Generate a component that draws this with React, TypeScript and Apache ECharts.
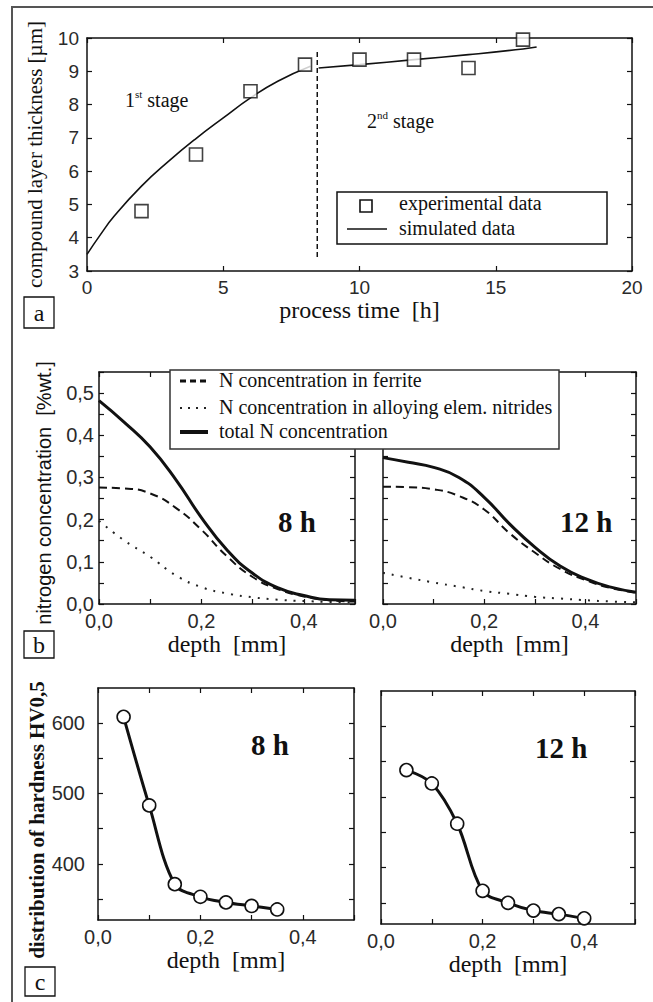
import React, { useEffect, useRef } from "react";
import * as echarts from "echarts";

// ---------- Panel a: compound layer thickness ----------
const expTime = [2, 4, 6, 8, 10, 12, 14, 16];
const expThickness = [4.8, 6.5, 8.4, 9.2, 9.35, 9.35, 9.1, 9.95];
const simStage1Time = [0, 0.5, 1, 2, 3, 4, 5, 6, 7, 8.2];
const simStage1Thickness = [3.5, 4.1, 4.65, 5.55, 6.3, 6.98, 7.6, 8.2, 8.7, 9.15];
const simStage2Time = [8.5, 10, 12, 14, 16, 16.5];
const simStage2Thickness = [9.1, 9.2, 9.35, 9.5, 9.67, 9.73];
const stageBoundaryTime = 8.45;
const stageBoundaryRange = [3.42, 9.66];

// ---------- Panel b: nitrogen concentration ----------
const depthN = [0, 0.05, 0.1, 0.15, 0.2, 0.25, 0.3, 0.35, 0.4, 0.45, 0.5];
const ferrite8 = [0.276, 0.274, 0.262, 0.228, 0.176, 0.113, 0.064, 0.035, 0.018, 0.009, 0.006];
const nitrides8 = [0.197, 0.15, 0.112, 0.068, 0.04, 0.025, 0.016, 0.01, 0.007, 0.005, 0.004];
const total8 = [0.482, 0.43, 0.372, 0.295, 0.205, 0.128, 0.073, 0.038, 0.02, 0.01, 0.009];
const ferrite12 = [0.278, 0.277, 0.272, 0.256, 0.224, 0.168, 0.122, 0.083, 0.057, 0.038, 0.027];
const nitrides12 = [0.074, 0.062, 0.051, 0.041, 0.031, 0.024, 0.017, 0.013, 0.009, 0.006, 0.004];
const total12 = [0.347, 0.336, 0.324, 0.3, 0.253, 0.19, 0.135, 0.09, 0.06, 0.04, 0.028];

// ---------- Panel c: hardness ----------
const hardDepth8 = [0.05, 0.1, 0.15, 0.2, 0.25, 0.3, 0.35];
const hardness8 = [609, 483, 371, 353, 345, 340, 335];
const hardDepth12 = [0.05, 0.1, 0.15, 0.2, 0.25, 0.3, 0.35, 0.4];
const hardness12 = [538, 519, 462, 367, 350, 339, 334, 328];

const yTicksA = [3, 10, 1];
const xTicksA = [0, 20, 5];
const hardTickValues = [350, 400, 450, 500, 550, 600];
const hardLabelValues = [400, 500, 600];

const SERIF = "'Liberation Serif', 'Times New Roman', serif";
const SANS = "'Liberation Sans', Arial, sans-serif";
const INK = "#111";

const zip = (xs: number[], ys: number[]) => xs.map((x, i) => [x, ys[i]]);
const comma1 = (v: number) => v.toFixed(1).replace(".", ",");

function buildOption() {
  const grids = [
    { left: 87, top: 38, width: 545, height: 233 },
    { left: 99, top: 372, width: 256, height: 232 },
    { left: 383, top: 372, width: 253, height: 232 },
    { left: 98, top: 688, width: 256, height: 232 },
    { left: 381, top: 691, width: 254, height: 233 },
  ];

  const line = { show: true, onZero: false, lineStyle: { color: INK, width: 1.5 } };
  const tick = { show: true, inside: true, length: 5, lineStyle: { color: INK, width: 1.2 } };
  const tickLabel = (size: number, margin: number) => ({
    fontFamily: SANS,
    fontSize: size,
    lineHeight: 16,
    color: "#2a2a2a",
    margin,
  });

  const xAxis: any[] = [];
  const yAxis: any[] = [];

  const depthFmt = (v: number) => {
    const r = Math.round(v * 10);
    return r % 2 === 0 && r < 5 ? comma1(v) : "";
  };
  const concFmt = (v: number) => {
    const r = Math.round(v * 100);
    return r % 10 === 0 ? comma1(v) : "";
  };

  // grid 0 (a)
  xAxis.push({
    gridIndex: 0, type: "value", min: xTicksA[0], max: xTicksA[1], interval: xTicksA[2],
    axisLine: line, axisTick: tick, splitLine: { show: false },
    axisLabel: tickLabel(19, 8),
    name: "process time  [h]", nameLocation: "middle", nameGap: 27,
    nameTextStyle: { fontFamily: SERIF, fontSize: 24, color: INK },
  });
  xAxis.push({
    gridIndex: 0, type: "value", position: "top", min: xTicksA[0], max: xTicksA[1], interval: xTicksA[2],
    axisLine: line, axisTick: tick, splitLine: { show: false }, axisLabel: { show: false },
  });
  yAxis.push({
    gridIndex: 0, type: "value", min: yTicksA[0], max: yTicksA[1], interval: yTicksA[2],
    axisLine: line, axisTick: tick, splitLine: { show: false },
    axisLabel: tickLabel(19, 8),
    name: "compound layer thickness [µm]", nameLocation: "middle", nameGap: 42,
    nameTextStyle: { fontFamily: SERIF, fontSize: 21, color: INK },
  });
  yAxis.push({
    gridIndex: 0, type: "value", position: "right", min: yTicksA[0], max: yTicksA[1], interval: yTicksA[2],
    axisLine: line, axisTick: tick, splitLine: { show: false }, axisLabel: { show: false },
  });

  // grids 1,2 (b)
  [1, 2].forEach((g) => {
    xAxis.push({
      gridIndex: g, type: "value", min: 0, max: 0.5, interval: 0.1,
      axisLine: line, axisTick: tick, splitLine: { show: false },
      axisLabel: { ...tickLabel(20, 9), formatter: depthFmt, showMaxLabel: true },
      name: "depth  [mm]", nameLocation: "middle", nameGap: 22,
      nameTextStyle: { fontFamily: SERIF, fontSize: 24, color: INK },
    });
    xAxis.push({
      gridIndex: g, type: "value", position: "top", min: 0, max: 0.5, interval: 0.1,
      axisLine: line, axisTick: tick, splitLine: { show: false }, axisLabel: { show: false },
    });
    yAxis.push({
      gridIndex: g, type: "value", min: 0, max: 0.55, interval: 0.05,
      axisLine: line, axisTick: tick, splitLine: { show: false },
      axisLabel: g === 1 ? { ...tickLabel(20, 5), formatter: concFmt } : { show: false },
      name: g === 1 ? "nitrogen concentration  [%wt.]" : "",
      nameLocation: "middle", nameGap: 45,
      nameTextStyle: { fontFamily: SANS, fontSize: 20, color: INK, padding: [0, 10, 0, 0] },
    });
    yAxis.push({
      gridIndex: g, type: "value", position: "right", min: 0, max: 0.55, interval: 0.05,
      axisLine: line, axisTick: tick, splitLine: { show: false }, axisLabel: { show: false },
    });
  });

  // grids 3,4 (c)
  [3, 4].forEach((g) => {
    xAxis.push({
      gridIndex: g, type: "value", min: 0, max: 0.5, interval: 0.1,
      axisLine: line, axisTick: tick, splitLine: { show: false },
      axisLabel: { ...tickLabel(20, 9), formatter: depthFmt },
      name: "depth  [mm]", nameLocation: "middle", nameGap: 28,
      nameTextStyle: { fontFamily: SERIF, fontSize: 24, color: INK },
    });
    xAxis.push({
      gridIndex: g, type: "value", position: "top", min: 0, max: 0.5, interval: 0.1,
      axisLine: line, axisTick: tick, splitLine: { show: false }, axisLabel: { show: false },
    });
    yAxis.push({
      gridIndex: g, type: "value", min: 320, max: 650,
      axisLine: line,
      axisTick: { ...tick, customValues: hardTickValues },
      splitLine: { show: false },
      axisLabel: g === 3
        ? { ...tickLabel(20, 13), customValues: hardLabelValues }
        : { show: false },
      name: g === 3 ? "distribution of hardness HV0,5" : "",
      nameLocation: "middle", nameGap: 45,
      nameTextStyle: {
        fontFamily: SERIF, fontSize: 21, fontWeight: "bold", color: INK,
        padding: [0, 32, 0, 0],
      },
    });
    yAxis.push({
      gridIndex: g, type: "value", position: "right", min: 320, max: 650,
      axisLine: line,
      axisTick: { ...tick, customValues: hardTickValues },
      splitLine: { show: false }, axisLabel: { show: false },
    });
  });

  const on = (g: number) => ({ xAxisIndex: 2 * g, yAxisIndex: 2 * g });
  const noSym = { symbol: "none", showSymbol: false };

  const series: any[] = [
    {
      type: "line", name: "simulated data", ...on(0), ...noSym, smooth: true,
      data: zip(simStage1Time, simStage1Thickness),
      lineStyle: { color: INK, width: 1.6 }, z: 2,
    },
    {
      type: "line", name: "simulated data", ...on(0), ...noSym, smooth: true,
      data: zip(simStage2Time, simStage2Thickness),
      lineStyle: { color: INK, width: 1.6 }, z: 2,
    },
    {
      type: "line", name: "stage boundary", ...on(0), ...noSym,
      data: [[stageBoundaryTime, stageBoundaryRange[0]], [stageBoundaryTime, stageBoundaryRange[1]]],
      lineStyle: { color: INK, width: 1.5, type: [5, 3] }, z: 2,
    },
    {
      type: "scatter", name: "experimental data", ...on(0),
      data: zip(expTime, expThickness), symbol: "rect", symbolSize: 13,
      itemStyle: { color: "#fff", borderColor: INK, borderWidth: 1.6 }, z: 4,
    },
  ];

  const nSeries = (g: number, fer: number[], nit: number[], tot: number[]) => [
    {
      type: "line", name: "N concentration in ferrite", ...on(g), ...noSym, smooth: true,
      data: zip(depthN, fer), lineStyle: { color: INK, width: 2, type: [8, 5] },
    },
    {
      type: "line", name: "N concentration in alloying elem. nitrides", ...on(g), ...noSym, smooth: true,
      data: zip(depthN, nit), lineStyle: { color: "#222", width: 2, type: [2, 7] },
    },
    {
      type: "line", name: "total N concentration", ...on(g), ...noSym, smooth: true,
      data: zip(depthN, tot), lineStyle: { color: INK, width: 3 },
    },
  ];
  series.push(...nSeries(1, ferrite8, nitrides8, total8));
  series.push(...nSeries(2, ferrite12, nitrides12, total12));

  const hSeries = (g: number, d: number[], h: number[]) => ({
    type: "line", name: "hardness", ...on(g), smooth: 0.35,
    data: zip(d, h), symbol: "circle", symbolSize: 13, showSymbol: true,
    lineStyle: { color: INK, width: 3 },
    itemStyle: { color: "#fff", borderColor: INK, borderWidth: 1.6 },
  });
  series.push(hSeries(3, hardDepth8, hardness8));
  series.push(hSeries(4, hardDepth12, hardness12));

  const txt = (x: number, y: number, text: string, size: number, extra: any = {}) => ({
    type: "text", x, y, z: 110,
    style: {
      text, fontFamily: SERIF, fontSize: size, fill: INK,
      textVerticalAlign: "middle", verticalAlign: "middle", ...extra,
    },
  });
  const panelBox = (x: number, y: number, w: number, h: number, letter: string) => [
    { type: "rect", z: 110, shape: { x, y, width: w, height: h }, style: { fill: "#fff", stroke: INK, lineWidth: 1.3 } },
    txt(x + w / 2, y + h / 2, letter, 24, { align: "center", textAlign: "center" }),
  ];
  const stageRich = {
    n: { fontFamily: SERIF, fontSize: 20, fill: INK, lineHeight: 22, verticalAlign: "bottom" },
    s: { fontFamily: SERIF, fontSize: 11, fill: INK, lineHeight: 12, verticalAlign: "top" },
  };

  const graphic: any[] = [
    // frame
    { type: "line", z: 110, shape: { x1: 12, y1: 7, x2: 653, y2: 7 }, style: { stroke: "#555", lineWidth: 2.2 } },
    { type: "line", z: 110, shape: { x1: 12, y1: 6, x2: 12, y2: 1002 }, style: { stroke: "#555", lineWidth: 2 } },
    ...panelBox(24, 297, 30, 31, "a"),
    ...panelBox(24, 631, 30, 27, "b"),
    ...panelBox(25, 967, 30, 29, "c"),

    // panel a annotations
    {
      type: "text", x: 125, y: 99, z: 110,
      style: { text: "{n|1}{s|st}{n| stage}", fontFamily: SERIF, verticalAlign: "middle", rich: stageRich },
    },
    {
      type: "text", x: 367, y: 120, z: 110,
      style: { text: "{n|2}{s|nd}{n| stage}", fontFamily: SERIF, verticalAlign: "middle", rich: stageRich },
    },
    // panel a legend
    { type: "rect", z: 105, shape: { x: 337, y: 192, width: 270, height: 52 }, style: { fill: "#fff", stroke: INK, lineWidth: 1.5 } },
    { type: "rect", z: 110, shape: { x: 360, y: 200, width: 12, height: 12 }, style: { fill: "#fff", stroke: INK, lineWidth: 1.6 } },
    txt(399, 203, "experimental data", 20),
    { type: "line", z: 110, shape: { x1: 347, y1: 229, x2: 387, y2: 229 }, style: { stroke: INK, lineWidth: 1.5 } },
    txt(399, 228, "simulated data", 20),

    // panel b legend
    { type: "rect", z: 105, shape: { x: 170, y: 370, width: 389, height: 79 }, style: { fill: "#fff", stroke: "#333", lineWidth: 1.5 } },
    { type: "line", z: 110, shape: { x1: 180, y1: 381, x2: 208, y2: 381 }, style: { stroke: INK, lineWidth: 3, lineDash: [6, 4] } },
    txt(219, 380, "N concentration in ferrite", 20),
    { type: "line", z: 110, shape: { x1: 180, y1: 408, x2: 208, y2: 408 }, style: { stroke: "#222", lineWidth: 2, lineDash: [2, 6] } },
    txt(219, 407, "N concentration in alloying elem. nitrides", 20),
    { type: "line", z: 110, shape: { x1: 180, y1: 432, x2: 208, y2: 432 }, style: { stroke: INK, lineWidth: 4 } },
    txt(219, 431, "total N concentration", 20),

    // time labels
    txt(278, 522, "8 h", 29, { fontWeight: "bold" }),
    txt(560, 522, "12 h", 29, { fontWeight: "bold" }),
    txt(251, 745, "8 h", 29, { fontWeight: "bold" }),
    txt(535, 748, "12 h", 29, { fontWeight: "bold" }),
  ];

  return {
    animation: false,
    backgroundColor: "#fff",
    grid: grids.map((g) => ({ ...g, containLabel: false, show: false })),
    xAxis,
    yAxis,
    series,
    graphic,
  };
}

export default function App() {
  const ref = useRef<HTMLDivElement>(null);
  useEffect(() => {
    if (!ref.current) return;
    const chart = echarts.init(ref.current, undefined, { renderer: "svg" });
    chart.setOption(buildOption() as any);
    return () => chart.dispose();
  }, []);
  return (
    <div
      ref={ref}
      style={{ position: "absolute", left: 0, top: 0, width: 653, height: 1002, background: "#fff" }}
    />
  );
}
